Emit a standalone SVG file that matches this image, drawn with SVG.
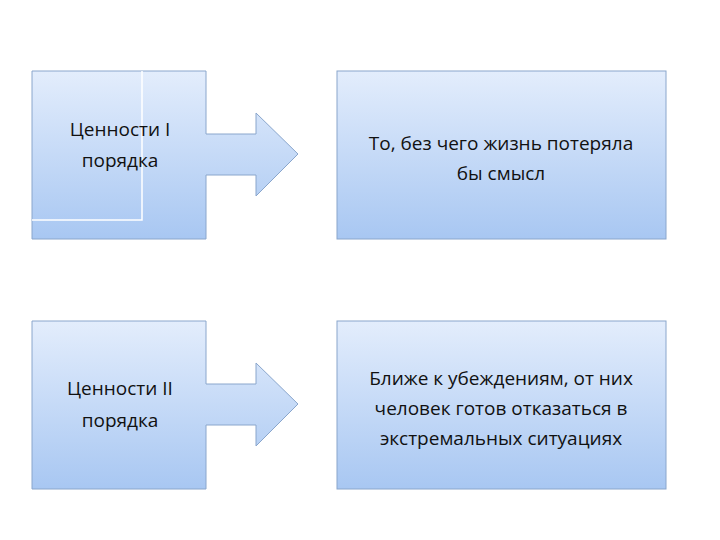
<svg xmlns="http://www.w3.org/2000/svg" width="720" height="540" viewBox="0 0 720 540">
<defs>
<linearGradient id="g" x1="0" y1="0" x2="0" y2="1"><stop offset="0" stop-color="#e3edfc"/><stop offset="1" stop-color="#a8c7f2"/></linearGradient>
<style>.s{fill:url(#g);stroke:#8aa6cc;stroke-width:1}.t{font-family:"Open Sans","Noto Sans",sans-serif;font-size:19px;fill:#111;text-anchor:middle}</style>
</defs>
<rect width="720" height="540" fill="#fff"/>
<g id="n1"><path class="s" d="M32,71H206V134H256V113L298,154L256,196V175H206V239H32Z"/>
<path d="M142,71V220H32" fill="none" stroke="#fff" stroke-width="1.5"/>
<text class="t" x="120" y="136">Ценности I</text><text class="t" x="120" y="167">порядка</text></g>
<g id="n2"><rect class="s" x="337" y="71" width="329" height="168"/>
<text class="t" x="501" y="150">То, без чего жизнь потеряла</text><text class="t" x="501" y="180">бы смысл</text></g>
<g id="n3"><path class="s" d="M32,321H206V384H256V363L298,404L256,446V425H206V489H32Z"/>
<text class="t" x="120" y="395">Ценности II</text><text class="t" x="120" y="427">порядка</text></g>
<g id="n4"><rect class="s" x="337" y="321" width="329" height="168"/>
<text class="t" x="501" y="385">Ближе к убеждениям, от них</text><text class="t" x="501" y="415">человек готов отказаться в</text><text class="t" x="501" y="445">экстремальных ситуациях</text></g>
<g id="connectors"/>
</svg>
